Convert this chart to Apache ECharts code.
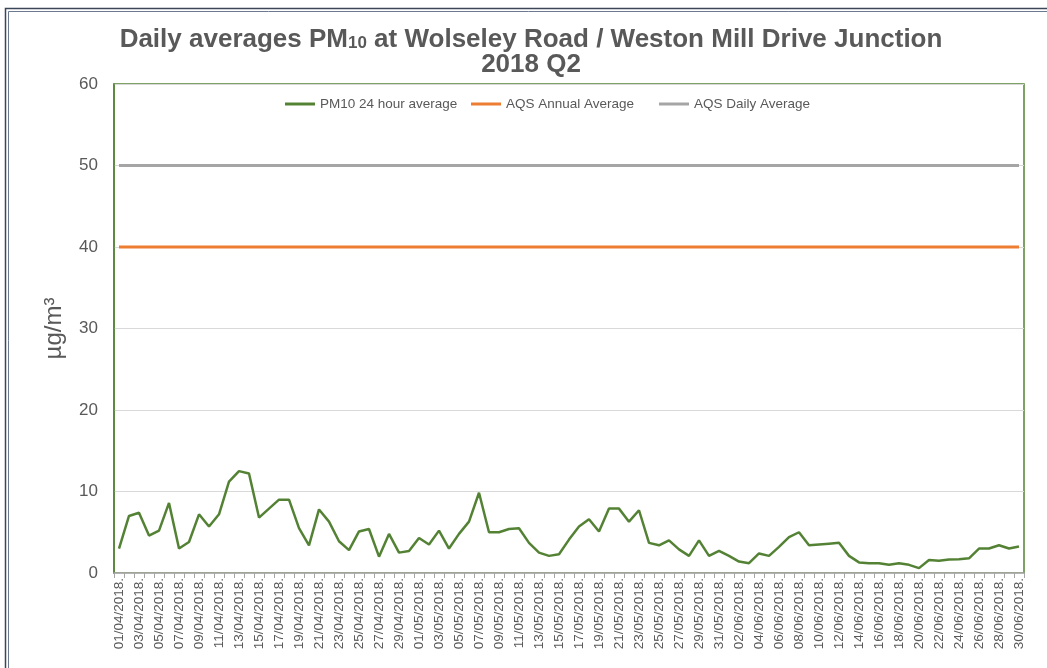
<!DOCTYPE html>
<html>
<head>
<meta charset="utf-8">
<script src="https://cdn.jsdelivr.net/npm/echarts@6/dist/echarts.min.js"></script>
<style>
html,body{margin:0;padding:0;background:#fff;}
#chart{width:1047px;height:668px;}
</style>
</head>
<body>
<div id="chart"></div>
<script>
// ---- Data ----
const dayCount = 91;
const categories = (function(){
  const out = [];
  const d = new Date(Date.UTC(2018, 3, 1));
  for (let i = 0; i < dayCount; i++) {
    const dd = String(d.getUTCDate()).padStart(2,'0');
    const mm = String(d.getUTCMonth()+1).padStart(2,'0');
    out.push(dd + '/' + mm + '/' + d.getUTCFullYear() + '.');
    d.setUTCDate(d.getUTCDate()+1);
  }
  return out;
})();

const pm10Daily = [
  3.0, 7.0, 7.4, 4.6, 5.2, 8.6, 3.0, 3.8, 7.2, 5.7,
  7.2, 11.2, 12.5, 12.2, 6.8, 7.9, 9.0, 9.0, 5.5, 3.4,
  7.8, 6.3, 3.9, 2.8, 5.1, 5.4, 2.0, 4.8, 2.5, 2.7,
  4.3, 3.5, 5.2, 3.0, 4.8, 6.3, 9.85, 5.0, 5.0, 5.4,
  5.5, 3.7, 2.5, 2.1, 2.3, 4.1, 5.7, 6.6, 5.1, 7.9,
  7.9, 6.3, 7.7, 3.7, 3.4, 4.0, 2.9, 2.1, 4.0, 2.1,
  2.7, 2.1, 1.4, 1.2, 2.4, 2.1, 3.2, 4.4, 5.0, 3.4,
  3.5, 3.6, 3.7, 2.1, 1.3, 1.2, 1.2, 1.0, 1.2, 1.0,
  0.6, 1.6, 1.5, 1.65, 1.7, 1.8, 3.0, 3.0, 3.4, 3.0,
  3.25
];
const aqsAnnualAverage = 40;
const aqsDailyAverage = 50;
const yTicks = [0, 10, 20, 30, 40, 50, 60];
const seriesNames = ['PM10 24 hour average', 'AQS Annual Average', 'AQS Daily Average'];

// ---- Chart ----
const chart = echarts.init(document.getElementById('chart'), null, {renderer: 'canvas'});
const textColor = '#595959';
const font = '"Liberation Sans", Arial, sans-serif';
const legendLefts = [280, 466, 654];

const legendStyle = {
  fontFamily: font, fontSize: 13.5, color: textColor
};

chart.setOption({
  animation: false,
  backgroundColor: '#ffffff',
  title: {
    text: 'Daily averages PM{sub|10} at Wolseley Road / Weston Mill Drive Junction\n2018 Q2',
    left: 526,
    textAlign: 'center',
    top: 22,
    textStyle: {
      fontFamily: font,
      fontWeight: 'bold',
      fontSize: 26,
      color: textColor,
      lineHeight: 25,
      rich: {
        sub: {
          fontFamily: font,
          fontWeight: 'bold',
          fontSize: 17,
          lineHeight: 25,
          color: textColor,
          verticalAlign: 'bottom',
          padding: [10, 0, 0, 0]
        }
      }
    }
  },
  legend: seriesNames.map((n, i) => ({
    top: 92,
    left: legendLefts[i],
    itemWidth: 30,
    itemHeight: 3,
    icon: 'rect',
    textStyle: legendStyle,
    data: [n]
  })),
  grid: {
    left: 114,
    right: 23,
    top: 84,
    bottom: 95,
    show: true,
    borderColor: '#548235',
    borderWidth: 1.5,
    containLabel: false
  },
  xAxis: {
    type: 'category',
    data: categories,
    boundaryGap: true,
    axisLine: {show: true, lineStyle: {color: '#a6a6a6', width: 1.5}},
    axisTick: {show: true, interval: 0, length: 5, lineStyle: {color: '#a6a6a6'}},
    axisLabel: {
      interval: 1,
      rotate: 90,
      fontFamily: font,
      fontSize: 13.5,
      color: textColor,
      margin: 5
    },
    splitLine: {show: false}
  },
  yAxis: {
    type: 'value',
    min: yTicks[0],
    max: yTicks[yTicks.length-1],
    interval: 10,
    name: 'µg/m³',
    nameLocation: 'middle',
    nameGap: 48,
    nameTextStyle: {fontFamily: font, fontSize: 24, color: textColor},
    axisLine: {show: true, lineStyle: {color: '#548235', width: 1.5}},
    axisTick: {show: false},
    axisLabel: {fontFamily: font, fontSize: 17, color: textColor, margin: 16},
    splitLine: {show: true, lineStyle: {color: '#d9d9d9', width: 1}}
  },
  graphic: [
    {type: 'rect', shape: {x: 5.5, y: 8.5, width: 1100, height: 700}, style: {fill: null, stroke: '#3b4658', lineWidth: 1.5}, silent: true},
    {type: 'rect', shape: {x: 8.5, y: 11.5, width: 1100, height: 700}, style: {fill: null, stroke: '#6b7a90', lineWidth: 1}, silent: true}
  ],
  series: [
    {
      name: seriesNames[0],
      type: 'line',
      data: pm10Daily,
      symbol: 'none',
      lineStyle: {color: '#548235', width: 2.5},
      itemStyle: {color: '#548235'},
      z: 4
    },
    {
      name: seriesNames[1],
      type: 'line',
      data: categories.map(() => aqsAnnualAverage),
      symbol: 'none',
      lineStyle: {color: '#ed7d31', width: 3},
      itemStyle: {color: '#ed7d31'},
      z: 3
    },
    {
      name: seriesNames[2],
      type: 'line',
      data: categories.map(() => aqsDailyAverage),
      symbol: 'none',
      lineStyle: {color: '#a5a5a5', width: 3},
      itemStyle: {color: '#a5a5a5'},
      z: 3
    }
  ]
});
</script>
</body>
</html>
